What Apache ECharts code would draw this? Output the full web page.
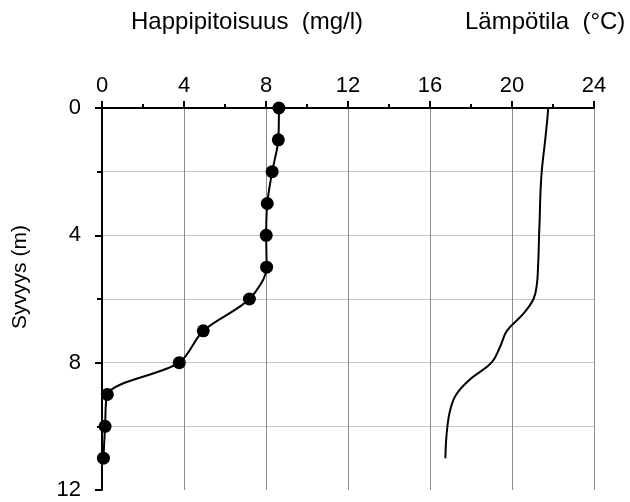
<!DOCTYPE html>
<html>
<head>
<meta charset="utf-8">
<script src="https://cdn.jsdelivr.net/npm/echarts@6/dist/echarts.min.js"></script>
<style>
html,body{margin:0;padding:0;background:#fff}
#chart{width:630px;height:502px}
</style>
</head>
<body>
<div id="chart"></div>
<script>
// syvyys (m) ja happipitoisuus (mg/l)
const oxyDepth = [0, 1, 2, 3, 4, 5, 6, 7, 8, 9, 10, 11];
const oxyValue = [8.63, 8.6, 8.3, 8.06, 8.01, 8.03, 7.19, 4.94, 3.77, 0.26, 0.15, 0.07];
// lämpötila (°C)
const tempDepth = [0, 0.5, 1, 1.5, 2, 2.5, 3, 3.5, 4, 4.5, 5, 5.5, 6, 6.5, 7, 7.5, 8, 8.5, 9, 9.5, 10, 10.5, 11];
const tempValue = [21.77, 21.7, 21.62, 21.53, 21.45, 21.4, 21.37, 21.35, 21.32, 21.3, 21.27, 21.22, 21.05, 20.5, 19.75, 19.42, 19.0, 18.0, 17.28, 16.98, 16.85, 16.78, 16.75];
const xTitleOxy = 'Happipitoisuus  (mg/l)';
const xTitleTemp = 'Lämpötila  (°C)';
const yTitle = 'Syvyys (m)';

const myChart = echarts.init(document.getElementById('chart'));
const font = 'Liberation Sans, Arial, sans-serif';

myChart.setOption({
    animation: false,
    grid: { left: 102, top: 108, right: 36, bottom: 12 },
    xAxis: {
        type: 'value', position: 'top', min: 0, max: 24, interval: 4,
        axisLine: { show: true, lineStyle: { color: '#000', width: 2 } },
        axisTick: { show: true, inside: false, length: 7, lineStyle: { color: '#000', width: 2 } },
        minorTick: { show: true, splitNumber: 2, length: 4, lineStyle: { color: '#000', width: 2 } },
        axisLabel: { color: '#000', fontSize: 22, fontFamily: font, margin: 11 },
        splitLine: { show: true, lineStyle: { color: '#8c8c8c', width: 1 } }
    },
    yAxis: {
        type: 'value', inverse: true, min: 0, max: 12, interval: 4,
        axisLine: { show: true, lineStyle: { color: '#000', width: 2 } },
        axisTick: { show: true, length: 7, lineStyle: { color: '#000', width: 2 } },
        minorTick: { show: true, splitNumber: 2, length: 5, lineStyle: { color: '#000', width: 2 } },
        axisLabel: { color: '#000', fontSize: 22, fontFamily: font, margin: 21 },
        splitLine: { show: true, showMinLine: false, showMaxLine: false, lineStyle: { color: '#c4c4c4', width: 1 } },
        minorSplitLine: { show: true, lineStyle: { color: '#c4c4c4', width: 1 } }
    },
    graphic: [
        { type: 'text', left: 131, top: 10, style: { text: xTitleOxy, fill: '#000', font: '24px ' + font } },
        { type: 'text', left: 465, top: 10, style: { text: xTitleTemp, fill: '#000', font: '24px ' + font } },
        { type: 'text', x: 20, y: 277, rotation: Math.PI / 2,
          style: { text: yTitle, fill: '#000', font: '21px ' + font, align: 'center', verticalAlign: 'middle' } }
    ],
    series: [
        {
            name: 'Happi', type: 'line', smooth: 0.3,
            data: oxyValue.map((v, i) => [v, oxyDepth[i]]),
            symbol: 'circle', symbolSize: 13,
            itemStyle: { color: '#000' },
            lineStyle: { color: '#000', width: 2 }
        },
        {
            name: 'Lämpötila', type: 'line', smooth: 0.4, symbol: 'none',
            data: tempValue.map((v, i) => [v, tempDepth[i]]),
            lineStyle: { color: '#000', width: 2 }
        }
    ]
});

window.addEventListener('resize', () => myChart.resize());
</script>
</body>
</html>
